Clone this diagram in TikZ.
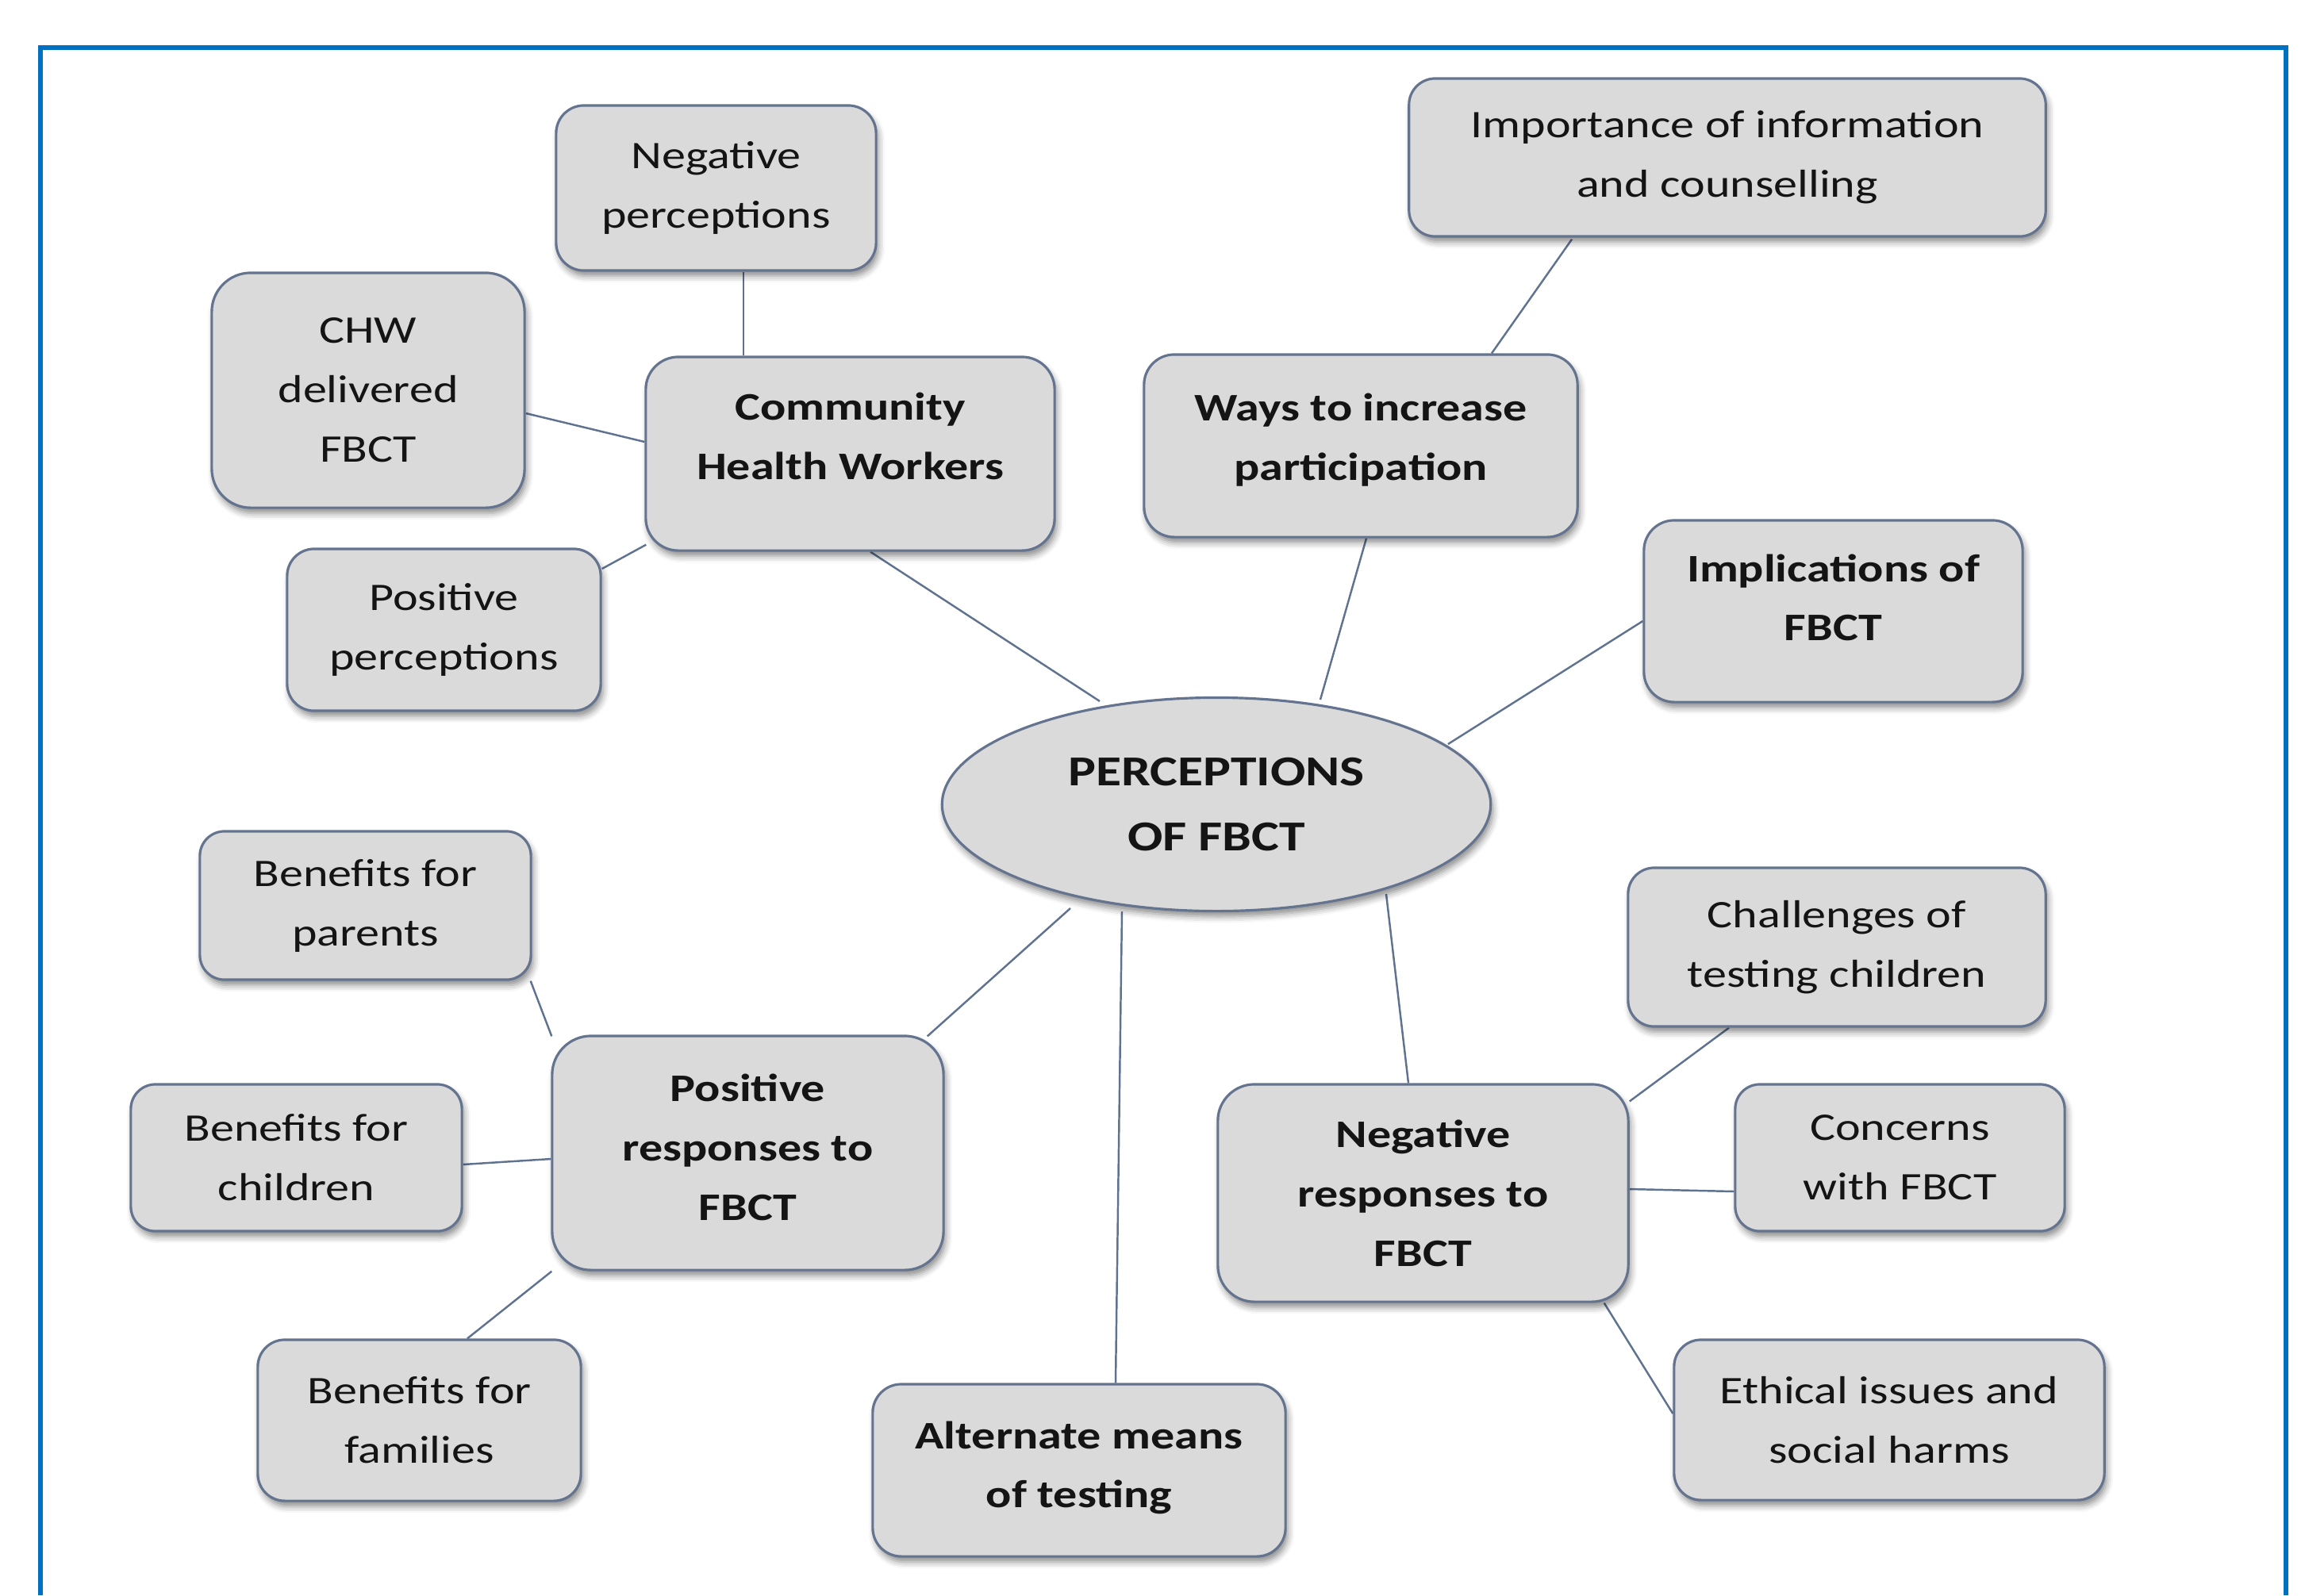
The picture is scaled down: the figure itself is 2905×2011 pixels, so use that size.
\documentclass[tikz,border=0pt]{standalone}
\usepackage{fontspec}
\setmainfont{Carlito}[FakeStretch=1.22]
\usetikzlibrary{calc,shapes.geometric,shadows.blur}
\pgfdeclarelayer{background}
\pgfsetlayers{background,main}

\definecolor{frameblue}{RGB}{0,112,192}
\definecolor{boxfill}{RGB}{218,218,219}
\definecolor{boxline}{RGB}{100,116,142}
\definecolor{linkcol}{RGB}{95,115,145}
\definecolor{inktext}{RGB}{20,20,20}

% centred lines of text, raised by #1 without changing the box size
\newcommand\liftedlines[2]{\raisebox{#1}[\height][\depth]{\begin{tabular}{@{}c@{}}#2\end{tabular}}}

\begin{document}
\begin{tikzpicture}[x=0.01cm,y=-0.01cm,
  topic/.style={draw=boxline, line width=0.9pt, fill=boxfill, text=inktext,
    align=center, inner sep=0pt, font=\fontsize{14}{21.3}\selectfont,
    blur shadow={shadow xshift=0.03cm, shadow yshift=-0.07cm,
      shadow blur radius=0.08cm, shadow opacity=45}},
  hub/.style={topic, font=\fontsize{14}{21.3}\selectfont\bfseries},
  core/.style={topic, ellipse, font=\fontsize{15.3}{23.5}\selectfont\bfseries},
  link/.style={draw=linkcol, line width=0.7pt}]

\useasboundingbox (0,0) rectangle (2905,2011);

% outer frame, open at the bottom
\draw[frameblue, line width=1.7pt] (51,2011) -- (51,60) -- (2881,60) -- (2881,2011);

% central theme
\node[core, minimum width=6.91cm, minimum height=2.69cm] (perc) at (1533,1014) {PERCEPTIONS\\OF FBCT};

% main themes
\node[hub, minimum width=5.15cm, minimum height=2.44cm, rounded corners=0.41cm] (chw) at (1071.5,572) {\liftedlines{0.2cm}{Community\\Health Workers}};
\node[hub, minimum width=5.46cm, minimum height=2.30cm, rounded corners=0.38cm] (ways) at (1715,562) {\liftedlines{0.09cm}{Ways to increase\\participation}};
\node[hub, minimum width=4.77cm, minimum height=2.29cm, rounded corners=0.38cm] (impl) at (2310.5,770.5) {\liftedlines{0.15cm}{Implications of\\FBCT}};
\node[hub, minimum width=4.93cm, minimum height=2.95cm, rounded corners=0.49cm] (posresp) at (942.5,1453.5) {\liftedlines{0.05cm}{Positive\\responses to\\FBCT}};
\node[hub, minimum width=5.20cm, minimum height=2.17cm, rounded corners=0.36cm] (alt) at (1360,1853.5) {\liftedlines{0.05cm}{Alternate means\\of testing}};
\node[hub, minimum width=5.17cm, minimum height=2.74cm, rounded corners=0.46cm] (negresp) at (1793.5,1504) {Negative\\responses to\\FBCT};

% sub-themes
\node[topic, minimum width=4.03cm, minimum height=2.08cm, rounded corners=0.35cm] (negperc) at (902.5,237) {Negative\\perceptions};
\node[topic, minimum width=3.94cm, minimum height=2.96cm, rounded corners=0.49cm] (chwdel) at (464,492) {CHW\\delivered\\FBCT};
\node[topic, minimum width=3.95cm, minimum height=2.04cm, rounded corners=0.34cm] (posperc) at (559.5,794) {Positive\\perceptions};
\node[topic, minimum width=8.02cm, minimum height=1.99cm, rounded corners=0.33cm] (info) at (2177,198.5) {Importance of information\\and counselling};
\node[topic, minimum width=4.17cm, minimum height=1.87cm, rounded corners=0.31cm] (parents) at (460.5,1141.5) {Benefits for\\parents};
\node[topic, minimum width=4.17cm, minimum height=1.85cm, rounded corners=0.31cm] (children) at (373.5,1459.5) {Benefits for\\children};
\node[topic, minimum width=4.07cm, minimum height=2.03cm, rounded corners=0.34cm] (families) at (528.5,1790.5) {Benefits for\\families};
\node[topic, minimum width=5.26cm, minimum height=2.00cm, rounded corners=0.33cm] (chall) at (2315,1194) {Challenges of\\testing children};
\node[topic, minimum width=4.15cm, minimum height=1.85cm, rounded corners=0.31cm] (concern) at (2394.5,1459.5) {Concerns\\with FBCT};
\node[topic, minimum width=5.42cm, minimum height=2.02cm, rounded corners=0.34cm] (ethics) at (2381,1790) {Ethical issues and\\social harms};

% connectors, kept behind the boxes
\begin{pgfonlayer}{background}
\draw[link] ($(negperc.south)+(34.5,0)$) -- ($(chw.north)+(-134.5,0)$);
\draw[link] ($(chwdel.east)+(0,29)$) -- ($(chw.west)+(0,-15)$);
\draw[link] ($(posperc.east)+(0,-77)$) -- ($(chw.south west)+(2,-9)$);
\draw[link] ($(chw.south)+(25.5,0)$) -- ($(perc.center)+(-147,-130)$);
\draw[link] ($(info.south)+(-196,2)$) -- ($(ways.north)+(165,0)$);
\draw[link] ($(ways.south)+(7,0)$) -- ($(perc.center)+(131,-132)$);
\draw[link] ($(impl.west)+(0,12.5)$) -- ($(perc.center)+(292,-76)$);
\draw[link] ($(posresp.north east)+(-22,2)$) -- ($(perc.center)+(-184,131)$);
\draw[link] ($(alt.north)+(46,0)$) -- ($(perc.center)+(-119,135)$);
\draw[link] ($(negresp.north)+(-18.5,0)$) -- ($(perc.center)+(214,113)$);
\draw[link] ($(parents.south east)+(-2,0)$) -- ($(posresp.north west)+(1,2)$);
\draw[link] ($(children.east)+(0,8.5)$) -- ($(posresp.west)+(0,7.5)$);
\draw[link] ($(families.north)+(60.5,0)$) -- ($(posresp.south west)+(1,0)$);
\draw[link] ($(chall.south)+(-136,0)$) -- ($(negresp.north east)+(0,23)$);
\draw[link] ($(negresp.east)+(0,-5)$) -- ($(concern.west)+(0,42.5)$);
\draw[link] ($(negresp.south east)+(-32,0)$) -- ($(ethics.west)+(0,-8)$);
\end{pgfonlayer}
\end{tikzpicture}
\end{document}
